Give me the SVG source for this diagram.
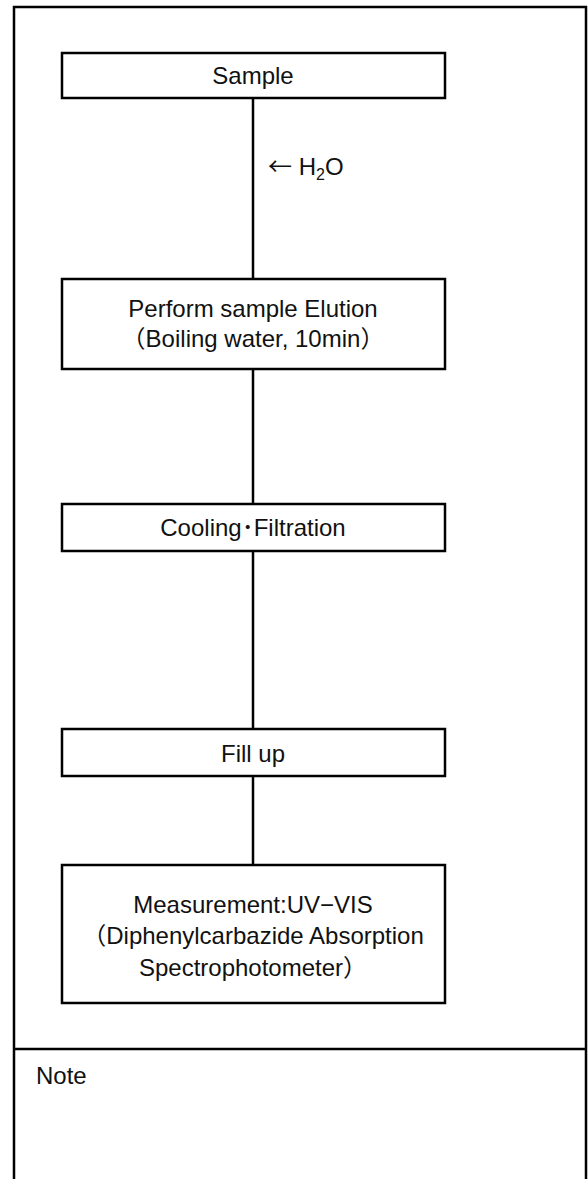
<svg xmlns="http://www.w3.org/2000/svg" width="588" height="1179" viewBox="0 0 588 1179">
<style>
.box{fill:#fff;stroke:#000;stroke-width:2.5}
.frame{fill:none;stroke:#000;stroke-width:2.5}
.t{font-family:"Liberation Sans","Noto Sans CJK JP",sans-serif;font-size:24px;fill:#111;text-anchor:middle}
.tl{font-family:"Liberation Sans","Noto Sans CJK JP",sans-serif;font-size:24px;fill:#111}
.c{stroke:#000;stroke-width:2.5;fill:none}
</style>
<rect width="588" height="1179" fill="#fff"/>
<g id="frame">
<path class="frame" d="M14,1185 V7 H586 V1185"/>
<line class="frame" x1="14" y1="1049" x2="586" y2="1049"/>
</g>
<g id="connectors">
<line class="c" x1="253" y1="98" x2="253" y2="279"/>
<line class="c" x1="253" y1="369" x2="253" y2="504"/>
<line class="c" x1="253" y1="551" x2="253" y2="729"/>
<line class="c" x1="253" y1="776" x2="253" y2="865"/>
<text class="tl" x="268" y="175"><tspan font-family="'Noto Sans CJK JP',sans-serif">←</tspan> H<tspan font-size="16" dy="5">2</tspan><tspan dy="-5">O</tspan></text>
</g>
<g id="sample">
<rect class="box" x="62" y="53" width="383" height="45"/>
<text class="t" x="253" y="84">Sample</text>
</g>
<g id="elution">
<rect class="box" x="62" y="279" width="383" height="90"/>
<text class="t" x="253" y="317">Perform sample Elution</text>
<text class="t" x="253" y="347">（Boiling water, 10min）</text>
</g>
<g id="cooling">
<rect class="box" x="62" y="504" width="383" height="47"/>
<text class="t" x="253" y="536">Cooling･Filtration</text>
</g>
<g id="fillup">
<rect class="box" x="62" y="729" width="383" height="47"/>
<text class="t" x="253" y="762">Fill up</text>
</g>
<g id="measurement">
<rect class="box" x="62" y="865" width="383" height="138"/>
<text class="t" x="253" y="913">Measurement:UV−VIS</text>
<text class="t" x="253" y="944">（Diphenylcarbazide Absorption</text>
<text class="t" x="253" y="976">Spectrophotometer）</text>
</g>
<g id="note">
<text class="tl" x="36" y="1084">Note</text>
</g>
</svg>
